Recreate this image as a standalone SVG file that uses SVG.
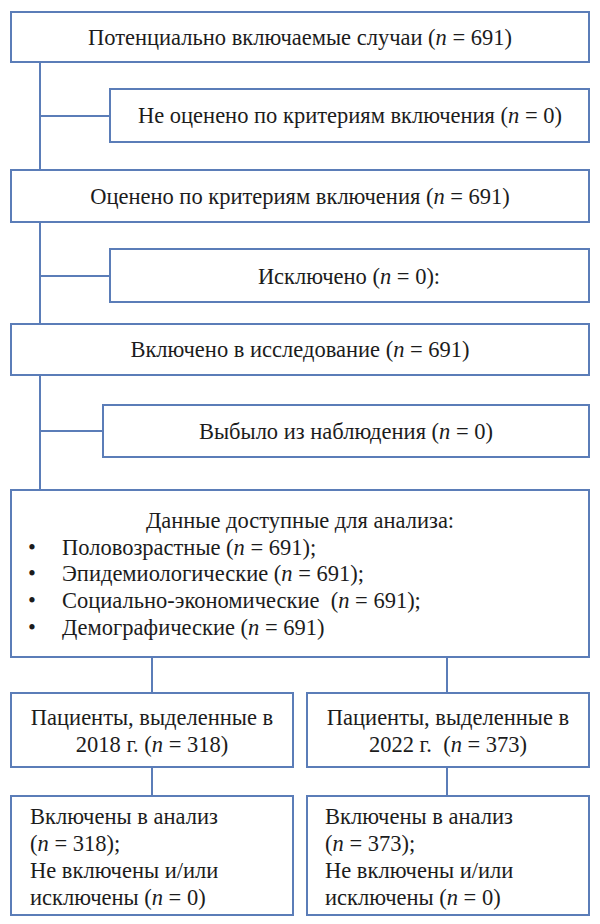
<svg xmlns="http://www.w3.org/2000/svg" width="600" height="924" viewBox="0 0 600 924">
<style>
.box{fill:#fff;stroke:#5b7db8;stroke-width:2}
.ln{stroke:#5b7db8;stroke-width:2;fill:none}
text{font-family:"Liberation Serif","Times New Roman",serif;font-size:22.5px;fill:#1c1c1c;white-space:pre}
.c{text-anchor:middle}
.i{font-style:italic}
</style>
<rect width="600" height="924" fill="#fff"/>
<g id="connectors">
<path class="ln" d="M40 62V490M40 116H110M40 276H110M40 431H103M152 657V693M447 657V693M152 767V796M447 767V796"/>
</g>
<g id="n1"><rect class="box" x="11" y="12" width="578" height="50"/><text class="c" x="300" y="45">Потенциально включаемые случаи (<tspan class="i">n</tspan> = 691)</text></g>
<g id="n2"><rect class="box" x="110" y="89" width="479" height="53"/><text class="c" x="350" y="123">Не оценено по критериям включения (<tspan class="i">n</tspan> = 0)</text></g>
<g id="n3"><rect class="box" x="11" y="170" width="578" height="52"/><text class="c" x="300" y="204">Оценено по критериям включения (<tspan class="i">n</tspan> = 691)</text></g>
<g id="n4"><rect class="box" x="110" y="249" width="479" height="53"/><text class="c" x="349" y="284">Исключено (<tspan class="i">n</tspan> = 0):</text></g>
<g id="n5"><rect class="box" x="11" y="324" width="578" height="51"/><text class="c" x="300" y="357">Включено в исследование (<tspan class="i">n</tspan> = 691)</text></g>
<g id="n6"><rect class="box" x="103" y="405" width="486" height="52"/><text class="c" x="346" y="439">Выбыло из наблюдения (<tspan class="i">n</tspan> = 0)</text></g>
<g id="n7"><rect class="box" x="11" y="490" width="578" height="167"/>
<text class="c" x="300" y="528">Данные доступные для анализа:</text>
<text x="28" y="555">•</text><text x="62" y="555">Половозрастные (<tspan class="i">n</tspan> = 691);</text>
<text x="28" y="581">•</text><text x="62" y="581">Эпидемиологические (<tspan class="i">n</tspan> = 691);</text>
<text x="28" y="608">•</text><text x="62" y="608">Социально-экономические  (<tspan class="i">n</tspan> = 691);</text>
<text x="28" y="635">•</text><text x="62" y="635">Демографические (<tspan class="i">n</tspan> = 691)</text>
</g>
<g id="n8"><rect class="box" x="11" y="693" width="282" height="74"/><text class="c" x="152" y="725">Пациенты, выделенные в</text><text class="c" x="152" y="752">2018 г. (<tspan class="i">n</tspan> = 318)</text></g>
<g id="n9"><rect class="box" x="307" y="693" width="282" height="74"/><text class="c" x="448" y="725">Пациенты, выделенные в</text><text class="c" x="448" y="752">2022 г.  (<tspan class="i">n</tspan> = 373)</text></g>
<g id="n10"><rect class="box" x="11" y="796" width="282" height="119"/><text x="30" y="824">Включены в анализ</text><text x="30" y="851">(<tspan class="i">n</tspan> = 318);</text><text x="30" y="878">Не включены и/или</text><text x="30" y="905">исключены (<tspan class="i">n</tspan> = 0)</text></g>
<g id="n11"><rect class="box" x="307" y="796" width="282" height="119"/><text x="325" y="824">Включены в анализ</text><text x="325" y="851">(<tspan class="i">n</tspan> = 373);</text><text x="325" y="878">Не включены и/или</text><text x="325" y="905">исключены (<tspan class="i">n</tspan> = 0)</text></g>
</svg>
